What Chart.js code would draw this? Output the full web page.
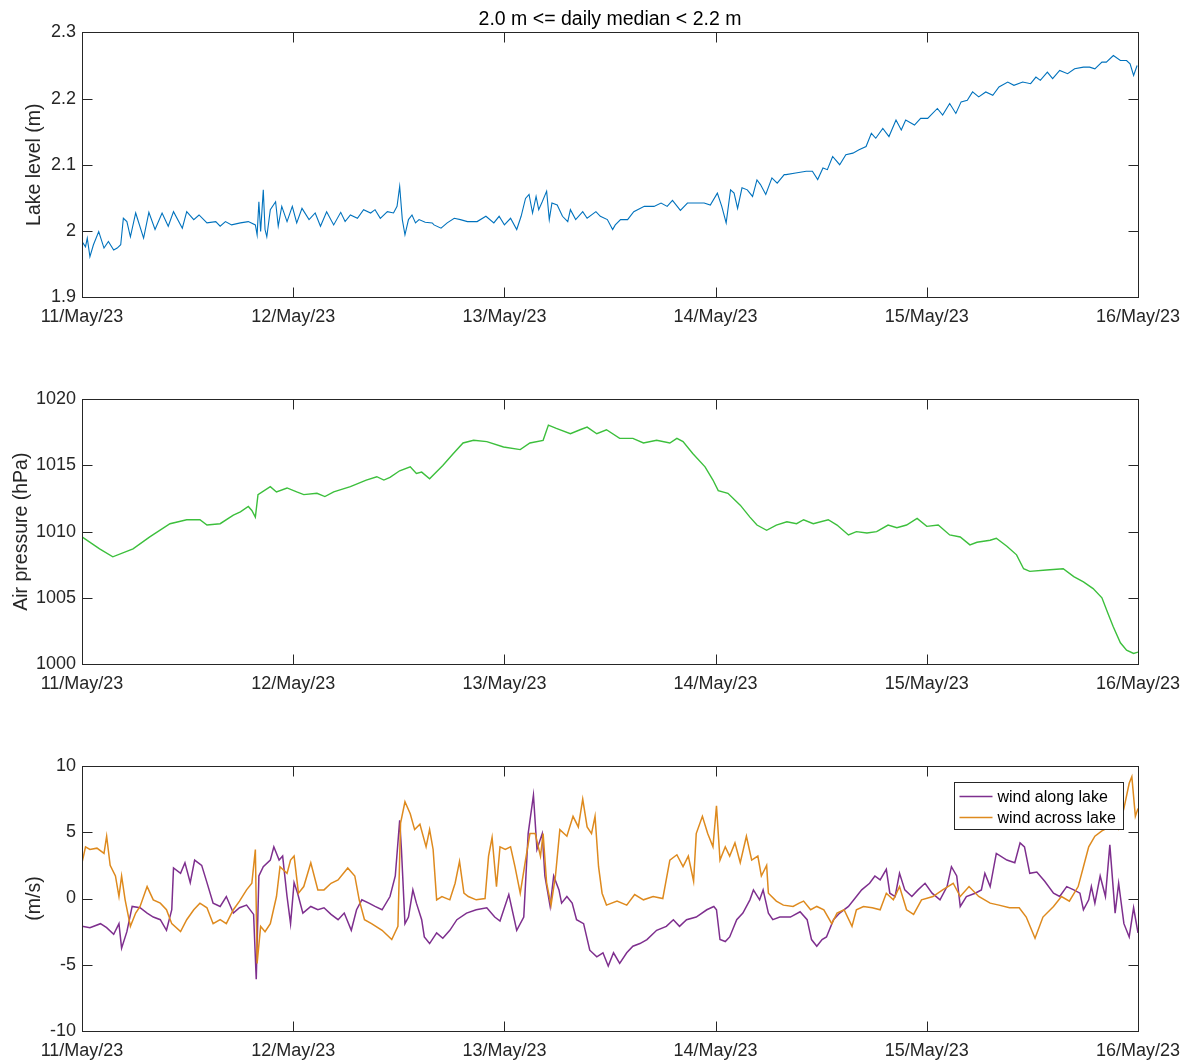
<!DOCTYPE html>
<html>
<head>
<meta charset="utf-8">
<script src="https://cdn.jsdelivr.net/npm/chart.js@4"></script>
<style>
  body { margin: 0; background: #fff; }
  canvas { position: absolute; left: 0; }
</style>
</head>
<body>
<canvas id="lago" width="1191" height="345" style="top:0px"></canvas>
<canvas id="pressao" width="1191" height="345" style="top:360px"></canvas>
<canvas id="vento" width="1191" height="338" style="top:726px"></canvas>
<script>
// hours since 11/May/23 00:00
const dayLabels = ['11/May/23', '12/May/23', '13/May/23', '14/May/23', '15/May/23', '16/May/23']

const levelHours = [
  0, 0.4, 0.6, 0.9, 1.3, 1.9, 2.5, 3.0, 3.6, 4.0, 4.4, 4.7, 5.1, 5.5, 6.1, 7.0, 7.6, 8.3, 9.1, 9.8,
  10.4, 11.4, 11.9, 12.7, 13.3, 14.2, 15.2, 15.7, 16.3, 17.0, 18.0, 18.9, 19.7, 19.9, 20.1, 20.3, 20.6, 20.8, 21.0, 21.4,
  22.0, 22.3, 22.7, 23.3, 23.9, 24.4, 25.0, 25.8, 26.5, 27.1, 27.8, 28.6, 29.4, 29.9, 30.5, 31.3, 32.0, 32.8, 33.3, 33.9,
  34.7, 35.4, 35.8, 36.1, 36.4, 36.7, 37.1, 37.5, 37.9, 38.3, 39.0, 39.8,
  40.0, 40.8, 41.5, 42.3, 43.0, 43.8, 44.9, 45.9, 46.8, 47.4, 48.0, 48.7, 49.4, 49.9, 50.4, 50.8, 51.2, 51.6, 51.9, 52.3,
  52.8, 53.1, 53.4, 54.0, 54.6, 55.2, 55.5, 56.1, 56.9, 57.4, 58.4, 58.9, 59.7, 60.3, 60.6, 61.2, 62.0, 62.7, 63.9, 65.0,
  65.8, 66.5, 67.1, 68.0, 68.8, 69.9, 70.7, 71.4, 72.2, 72.7, 73.2, 73.7, 74.1, 74.5, 75.0, 75.6, 76.2, 76.7, 77.1, 77.7,
  78.4, 79.0, 79.8,
  80.0, 81.1, 82.3, 83.0, 83.6, 84.2, 84.7, 85.3, 86.1, 86.8, 87.6, 88.3, 89.1, 89.7, 90.2, 91.0, 91.7, 92.5, 93.1, 93.6,
  94.6, 95.3, 96.1, 97.2, 97.8, 98.6, 99.3, 99.9, 100.6, 101.2, 101.9, 102.7, 103.5, 104.2, 105.2, 105.9, 106.9, 107.8, 108.4, 108.9,
  109.7, 110.3, 111.1, 112.0, 112.8, 113.8, 114.5, 115.1, 115.9, 116.4, 117.2, 118.0, 118.7, 119.1, 119.5, 119.9
]
const levelValues = [
  1.984, 1.976, 1.989, 1.961, 1.979, 1.999, 1.974, 1.984, 1.971, 1.974, 1.979, 2.019, 2.014, 1.991, 2.027, 1.989, 2.028, 2.002, 2.027, 2.007,
  2.029, 2.004, 2.029, 2.017, 2.024, 2.012, 2.014, 2.007, 2.014, 2.009, 2.012, 2.014, 2.009, 1.994, 2.044, 1.999, 2.062, 2.002, 1.991, 2.032,
  2.044, 2.007, 2.037, 2.014, 2.037, 2.012, 2.034, 2.017, 2.027, 2.007, 2.029, 2.009, 2.028, 2.014, 2.024, 2.019, 2.032, 2.027, 2.032, 2.019,
  2.029, 2.027, 2.037, 2.067, 2.017, 1.994, 2.017, 2.024, 2.012, 2.017, 2.013, 2.012,
  2.009, 2.004, 2.012, 2.019, 2.017, 2.014, 2.014, 2.022, 2.012, 2.022, 2.009, 2.019, 2.002, 2.022, 2.049, 2.055, 2.027, 2.052, 2.032, 2.044,
  2.060, 2.017, 2.042, 2.039, 2.022, 2.014, 2.032, 2.017, 2.029, 2.019, 2.029, 2.022, 2.017, 2.002, 2.009, 2.017, 2.017, 2.029, 2.037, 2.037,
  2.042, 2.037, 2.046, 2.031, 2.042, 2.042, 2.042, 2.039, 2.057, 2.037, 2.012, 2.062, 2.057, 2.034, 2.065, 2.062, 2.052, 2.077, 2.070, 2.055,
  2.080, 2.072, 2.085,
  2.085, 2.0875, 2.090, 2.090, 2.0775, 2.095, 2.0925, 2.1125, 2.100, 2.115, 2.1175, 2.1225, 2.1275, 2.1475, 2.140, 2.155, 2.1425, 2.1675, 2.1525, 2.1675,
  2.160, 2.170, 2.170, 2.185, 2.175, 2.1925, 2.1775, 2.195, 2.1975, 2.210, 2.2025, 2.210, 2.205, 2.2175, 2.225, 2.220, 2.225, 2.2225, 2.2325, 2.2275,
  2.240, 2.230, 2.2425, 2.2375, 2.245, 2.2475, 2.2475, 2.245, 2.255, 2.255, 2.265, 2.2575, 2.2575, 2.2525, 2.235, 2.250
]

const pressureHours = [
  0, 2.0, 3.5, 5.8, 7.7, 10.0, 11.9, 13.4, 14.2, 15.7, 17.2, 18.0, 18.9, 19.3, 19.7, 20.0, 21.4, 22.1, 23.3, 24.4,
  25.2, 26.7, 27.6, 28.6, 30.5, 32.3, 33.5, 34.3, 35.0, 36.1, 37.3, 38.0, 38.6, 39.5, 41.0, 42.2, 43.3, 44.5, 46.0, 47.9,
  49.8, 50.9, 52.4, 53.0, 53.9, 55.5, 56.6, 57.4, 58.5, 59.6, 61.1, 62.6, 63.8, 65.3, 66.8, 67.6, 68.3, 69.4, 70.8, 71.7,
  72.3, 73.4, 74.8, 75.9, 76.7, 77.8, 78.9, 80.1, 81.2, 82.0, 83.1, 84.8, 85.8, 87.1, 88.0, 89.2, 90.3, 91.6, 92.6, 93.7,
  94.9, 96.0, 97.3, 98.6, 99.8, 100.9, 101.7, 103.2, 103.9, 105.1, 106.2, 107.0, 107.7, 109.6, 111.5, 112.7, 113.8, 114.9, 115.9, 116.6,
  117.2, 118.0, 118.7, 119.5, 120.0
]
const pressureValues = [
  1009.6, 1008.7, 1008.1, 1008.7, 1009.6, 1010.6, 1010.9, 1010.9, 1010.5, 1010.6, 1011.25, 1011.5, 1011.9, 1011.6, 1011.1, 1012.8, 1013.4, 1013.0, 1013.3, 1013.0,
  1012.8, 1012.9, 1012.65, 1013.0, 1013.4, 1013.9, 1014.15, 1013.9, 1014.1, 1014.6, 1014.9, 1014.4, 1014.5, 1014.0, 1015.0, 1015.9, 1016.7, 1016.9, 1016.8, 1016.4,
  1016.2, 1016.7, 1016.9, 1018.05, 1017.8, 1017.4, 1017.7, 1017.9, 1017.4, 1017.7, 1017.05, 1017.05, 1016.7, 1016.9, 1016.7, 1017.05, 1016.8, 1015.9, 1014.9, 1013.9,
  1013.1, 1012.9, 1012.0, 1011.1, 1010.5, 1010.1, 1010.5, 1010.75, 1010.6, 1010.9, 1010.6, 1010.9, 1010.5, 1009.75, 1010.0, 1009.9, 1010.0, 1010.5, 1010.3, 1010.5,
  1011.0, 1010.4, 1010.5, 1009.75, 1009.6, 1009.0, 1009.2, 1009.35, 1009.5, 1008.9, 1008.25, 1007.2, 1007.0, 1007.1, 1007.2, 1006.6, 1006.2, 1005.7, 1005.0, 1003.8,
  1002.8, 1001.6, 1001.05, 1000.8, 1000.9
]

const alongHours = [
  0, 0.9, 2.1, 2.8, 3.6, 4.2, 4.5, 5.1, 5.7, 6.6, 7.4, 8.1, 8.9, 9.6, 10.2, 10.4, 11.2, 11.7, 12.3, 12.8,
  13.6, 14.2, 14.9, 15.7, 16.4, 17.2, 17.9, 18.7, 19.5, 19.8, 20.1, 20.6, 21.4, 21.8, 22.4, 22.8, 23.3, 23.7, 24.1, 24.5,
  25.1, 26.0, 26.8, 27.5, 28.3, 29.1, 29.8, 30.6, 31.2, 31.8, 32.6, 33.3, 34.1, 35.0, 35.6, 36.1, 36.3, 36.7, 37.1, 37.6,
  38.0, 38.6, 38.9, 39.5, 40.3, 41.0, 41.8, 42.6, 43.7, 44.8, 46.0, 46.9, 47.5, 48.5, 49.4, 50.2, 50.7, 51.3, 51.7, 52.3,
  52.6, 53.2, 53.6, 54.2, 54.5, 55.1, 55.7, 56.2, 57.0, 57.7, 58.5, 59.2, 59.8, 60.4, 61.1, 61.9, 62.6, 63.4, 64.2, 65.3,
  66.4, 67.2, 67.9, 68.7, 69.8, 71.0, 71.8, 72.1, 72.5, 73.1, 73.6, 74.4, 75.1, 75.9, 76.3, 77.0, 77.4, 78.0, 78.5, 79.3,
  80.0, 80.5, 81.6, 82.4, 82.9, 83.5, 84.1, 84.6, 85.4, 86.1, 87.1, 88.0, 88.6, 89.5, 90.1, 90.7, 91.4, 91.8, 92.4, 92.9,
  93.5, 94.3, 95.0, 95.8, 96.6, 97.5, 98.3, 98.8, 99.4, 99.8, 100.5, 101.5, 102.2, 102.6, 103.2, 103.9, 105.1, 106.0, 106.6, 107.1,
  107.7, 108.5, 109.4, 110.4, 111.1, 111.9, 112.7, 113.4, 113.8, 114.4, 114.7, 115.1, 115.7, 116.3, 116.8, 117.4, 117.8, 118.4, 119.0, 119.5,
  120.0
]
const alongValues = [
  -2.1, -2.2, -1.9, -2.2, -2.7, -1.9, -3.75, -2.5, -0.6, -0.7, -1.1, -1.4, -1.6, -2.4, -0.85, 2.3, 1.9, 2.7, 1.2, 2.9,
  2.5, 1.2, -0.35, -0.6, 0.15, -1.1, -0.7, -0.5, -1.2, -6.1, 1.7, 2.4, 2.9, 3.9, 2.9, 3.2, 0.15, -1.9, 1.2, 0.4,
  -1.1, -0.6, -0.85, -0.7, -1.2, -1.6, -1.1, -2.4, -0.85, -0.1, -0.35, -0.6, -0.85, 0.15, 1.7, 5.9, 3.7, -1.9, -1.4, 0.65,
  -0.35, -1.6, -2.9, -3.4, -2.6, -3.0, -2.4, -1.6, -1.1, -0.85, -0.7, -1.4, -1.7, 0.3, -2.4, -1.4, 4.9, 7.8, 3.7, 4.9,
  1.7, -0.6, 1.7, 0.65, -0.35, 0.15, -0.35, -1.6, -1.9, -3.9, -4.4, -4.1, -5.1, -4.1, -4.9, -4.1, -3.6, -3.4, -3.1, -2.4,
  -2.1, -1.6, -2.1, -1.6, -1.4, -0.85, -0.6, -0.85, -3.1, -3.25, -2.9, -1.6, -1.1, -0.1, 0.65, -0.1, 0.65, -1.1, -1.6, -1.4,
  -1.4, -1.4, -1.0, -1.6, -3.1, -3.6, -3.1, -2.9, -1.6, -1.1, -0.6, 0.15, 0.65, 1.15, 1.7, 1.4, 2.2, 0.4, 0.15, 1.9,
  0.65, 0.15, 0.65, 1.15, 0.4, -0.1, 0.9, 2.4, 1.7, -0.6, 0.15, 0.4, 0.65, 1.9, 0.9, 3.4, 2.9, 2.7, 4.2, 3.9,
  1.9, 2.0, 1.3, 0.4, 0.15, 0.9, 0.65, 0.4, -0.85, -0.1, 0.9, -0.35, 1.7, 0.15, 4.05, -1.1, 1.15, -1.9, -2.9, -0.7,
  -2.6
]

const acrossHours = [
  0, 0.4, 0.9, 1.7, 2.5, 2.8, 3.2, 3.8, 4.2, 4.5, 4.9, 5.5, 6.1, 6.6, 7.4, 8.1, 8.9, 9.6, 10.2, 11.2,
  11.9, 12.7, 13.4, 14.2, 14.9, 15.7, 16.4, 17.2, 17.9, 18.7, 19.3, 19.7, 19.9, 20.3, 20.8, 21.4, 22.1, 22.5, 23.3, 23.7,
  24.1, 24.6, 25.2, 26.0, 26.8, 27.5, 28.3, 29.1, 30.2, 31.0, 31.5, 32.1, 32.9, 34.1, 35.2, 35.9, 36.2, 36.7, 37.3, 37.8,
  38.4, 39.1, 39.5, 39.9, 40.3, 40.9, 41.8, 42.4, 42.9, 43.4, 43.9, 44.8, 45.8, 46.2, 46.6, 47.1, 47.5, 48.1, 48.7, 49.2,
  49.8, 50.4, 50.9, 51.5, 52.1, 52.4, 52.8, 53.3, 53.8, 54.3, 55.1, 55.8, 56.4, 56.9, 57.4, 57.9, 58.3, 58.7, 59.1, 59.6,
  60.8, 61.9, 62.8, 63.8, 64.9, 66.0, 66.8, 67.6, 68.3, 68.9, 69.5, 69.8, 70.5, 71.1, 71.7, 72.1, 72.5, 73.1, 73.6, 74.2,
  74.8, 75.5, 76.1, 76.8, 77.2, 77.8, 78.0, 78.9, 79.7, 80.8, 81.5, 82.0, 82.8, 83.5, 84.3, 85.2, 85.8, 86.6, 87.5, 88.0,
  88.8, 89.8, 90.7, 91.4, 92.2, 92.9, 93.7, 94.5, 95.4, 96.7, 97.8, 99.0, 99.8, 100.8, 101.9, 103.2, 104.2, 105.4, 106.5, 107.3,
  108.3, 109.2, 110.4, 111.3, 112.2, 113.2, 113.8, 114.4, 115.1, 115.9, 116.5, 117.3, 117.8, 118.4, 119.0, 119.3, 119.7, 120.0
]
const acrossValues = [
  2.7, 3.9, 3.7, 3.8, 3.4, 4.7, 2.5, 1.7, 0.15, 1.7, -0.1, -2.1, -1.1, -0.6, 0.9, -0.1, -0.35, -0.85, -1.9, -2.5,
  -1.6, -0.85, -0.35, -0.7, -1.9, -1.6, -1.9, -0.85, -0.2, 0.65, 1.15, 3.7, -4.9, -2.1, -2.5, -1.9, 0.15, 2.4, 1.9, 2.9,
  3.2, 0.4, 0.9, 2.7, 0.65, 0.65, 1.15, 1.4, 2.3, 1.7, -0.1, -1.6, -1.9, -2.4, -3.1, -2.1, 5.7, 7.3, 6.4, 5.2,
  5.6, 3.9, 5.2, 3.7, -0.1, 0.15, -0.1, 1.15, 2.8, 0.4, 0.15, -0.1, 0.0, 3.2, 4.6, 0.9, 3.9, 3.7, 3.9, 2.4,
  0.4, 2.9, 4.9, 4.9, 3.2, 4.9, 1.15, -0.5, 1.7, 5.2, 4.7, 6.2, 5.4, 7.5, 5.4, 4.9, 6.2, 2.4, 0.4, -0.5,
  -0.2, -0.5, 0.3, -0.1, 0.15, 0.0, 2.9, 3.3, 2.4, 3.2, 1.3, 4.9, 6.2, 4.9, 3.9, 7.0, 2.9, 3.9, 3.2, 4.2,
  2.7, 4.7, 2.9, 3.2, 1.7, 2.5, 0.4, -0.2, -0.5, -0.6, -0.35, -0.2, -0.85, -0.6, -0.85, -1.9, -1.1, -0.85, -2.1, -0.85,
  -0.6, -0.7, -0.85, 0.4, -0.1, 0.9, -0.85, -1.2, -0.1, 0.15, 0.65, 1.15, 0.15, 0.9, 0.15, -0.35, -0.5, -0.7, -0.7, -1.4,
  -3.0, -1.4, -0.6, 0.15, -0.2, 0.9, 2.4, 3.9, 4.7, 5.1, 5.3, 6.3, 5.3, 6.8, 8.7, 9.2, 6.2, 6.8
]

const levelTicks = { min: 1.9, max: 2.3, step: 0.1 }
const pressureTicks = { min: 1000, max: 1020, step: 5 }
const windTicks = { min: -10, max: 10, step: 5 }

const corTexto = '#262626'
const fonte = 'Liberation Sans, Arial, Helvetica, sans-serif'

function pontos(xs, ys) {
  return xs.map((x, i) => ({ x, y: ys[i] }))
}

// frame + inward ticks on all four sides, like a MATLAB axes box
const caixaEixos = {
  id: 'caixaEixos',
  afterDraw(chart) {
    const { ctx, chartArea: a, scales } = chart
    const L = Math.round(a.left) + 0.5
    const R = Math.round(a.right) + 0.5
    const T = Math.round(a.top) + 0.5
    const B = Math.round(a.bottom) + 0.5
    const tam = 10
    ctx.save()
    ctx.strokeStyle = corTexto
    ctx.lineWidth = 1
    ctx.beginPath()
    scales.x.ticks.forEach(t => {
      const px = Math.round(scales.x.getPixelForValue(t.value)) + 0.5
      ctx.moveTo(px, B); ctx.lineTo(px, B - tam)
      ctx.moveTo(px, T); ctx.lineTo(px, T + tam)
    })
    scales.y.ticks.forEach(t => {
      const py = Math.round(scales.y.getPixelForValue(t.value)) + 0.5
      ctx.moveTo(L, py); ctx.lineTo(L + tam, py)
      ctx.moveTo(R, py); ctx.lineTo(R - tam, py)
    })
    ctx.stroke()
    ctx.strokeRect(L, T, R - L, B - T)
    ctx.restore()
  }
}

// boxed legend in the upper right corner of the axes
const legendaCaixa = {
  id: 'legendaCaixa',
  afterDraw(chart, args, opts) {
    if (!opts.display) return
    const { ctx, chartArea: a } = chart
    const w = 169, h = 47
    const x0 = Math.round(a.right - 15 - w) + 0.5
    const y0 = Math.round(a.top + 16) + 0.5
    ctx.save()
    ctx.fillStyle = '#fff'
    ctx.fillRect(x0, y0, w, h)
    ctx.strokeStyle = corTexto
    ctx.lineWidth = 1
    ctx.strokeRect(x0, y0, w, h)
    ctx.font = '16px ' + fonte
    ctx.textBaseline = 'middle'
    chart.data.datasets.forEach((ds, i) => {
      const yy = y0 + 14 + i * 21
      ctx.strokeStyle = ds.borderColor
      ctx.lineWidth = 1.5
      ctx.beginPath()
      ctx.moveTo(x0 + 5, yy)
      ctx.lineTo(x0 + 38, yy)
      ctx.stroke()
      ctx.fillStyle = '#000'
      ctx.fillText(ds.label, x0 + 43, yy + 1)
    })
    ctx.restore()
  }
}

function montarPainel(id, datasets, cfg) {
  const ctx = document.getElementById(id).getContext('2d')
  return new Chart(ctx, {
    type: 'line',
    data: { datasets },
    plugins: [caixaEixos, legendaCaixa],
    options: {
      responsive: false,
      animation: false,
      devicePixelRatio: 1,
      parsing: false,
      layout: { padding: { left: 0, right: 53, top: cfg.padTop, bottom: cfg.padBottom } },
      elements: { point: { radius: 0 }, line: { tension: 0 } },
      plugins: {
        legend: { display: false },
        tooltip: { enabled: false },
        title: {
          display: !!cfg.titulo,
          text: cfg.titulo || '',
          fullSize: false,
          color: '#000',
          font: { family: fonte, size: 19.5, weight: 'normal' },
          padding: { top: 8, bottom: 1 }
        },
        legendaCaixa: { display: !!cfg.legenda }
      },
      scales: {
        x: {
          type: 'linear',
          min: 0,
          max: 120,
          grid: { display: false, drawTicks: false, tickLength: 0 },
          border: { display: false },
          ticks: {
            stepSize: 24,
            autoSkip: false,
            maxRotation: 0,
            padding: 9,
            color: corTexto,
            font: { family: fonte, size: 18 },
            callback: v => dayLabels[Math.round(v / 24)]
          },
          afterFit: s => { s.height = cfg.alturaX }
        },
        y: {
          min: cfg.ticks.min,
          max: cfg.ticks.max,
          grid: { display: false, drawTicks: false, tickLength: 0 },
          border: { display: false },
          ticks: {
            stepSize: cfg.ticks.step,
            padding: 6,
            color: corTexto,
            font: { family: fonte, size: 18 },
            callback: v => String(Number(v.toFixed(1)))
          },
          title: {
            display: true,
            text: cfg.rotulo,
            color: corTexto,
            font: { family: fonte, size: 19.5 },
            padding: { top: cfg.padRotulo, bottom: 0 }
          },
          afterFit: s => { s.width = 82 }
        }
      }
    }
  })
}

montarPainel('lago', [{
  label: 'Lake level',
  data: pontos(levelHours, levelValues),
  borderColor: '#0072BD',
  borderWidth: 1.1
}], { titulo: '2.0 m <= daily median < 2.2 m', ticks: levelTicks, rotulo: 'Lake level (m)', padRotulo: 23, padTop: 0, padBottom: 8, alturaX: 40 })

montarPainel('pressao', [{
  label: 'Air pressure',
  data: pontos(pressureHours, pressureValues),
  borderColor: '#3CBF3C',
  borderWidth: 1.4
}], { ticks: pressureTicks, rotulo: 'Air pressure (hPa)', padRotulo: 10, padTop: 39.3, padBottom: 1, alturaX: 40 })

montarPainel('vento', [{
  label: 'wind along lake',
  data: pontos(alongHours, alongValues),
  borderColor: '#7E2F8E',
  borderWidth: 1.5,
  order: 1
}, {
  label: 'wind across lake',
  data: pontos(acrossHours, acrossValues),
  borderColor: '#DE8A1E',
  borderWidth: 1.5,
  order: 0
}], { ticks: windTicks, rotulo: '(m/s)', padRotulo: 23, padTop: 40, padBottom: 0, alturaX: 33, legenda: true })
</script>
</body>
</html>
